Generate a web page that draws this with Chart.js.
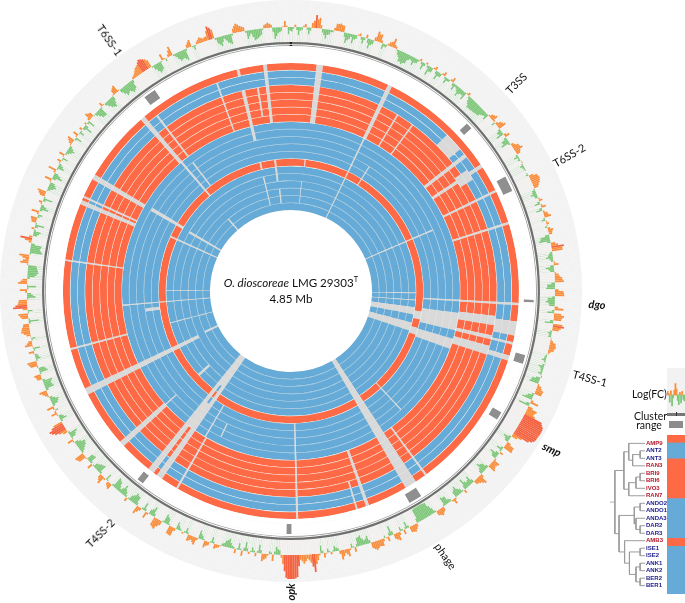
<!DOCTYPE html>
<html>
<head>
<meta charset="utf-8">
<script src="https://cdn.jsdelivr.net/npm/chart.js@4"></script>
<style>
html, body { margin: 0; background: #fff; }
#page { position: relative; width: 685px; height: 603px; overflow: hidden; font-family: Lato, "Liberation Sans", sans-serif; color: #111; }
canvas { position: absolute; }
.lbl { position: absolute; white-space: nowrap; font-size: 11px; line-height: 1; transform: translate(-50%, -50%) rotate(var(--rot)); }
.gene { font-weight: bold; font-style: italic; }
#title { position: absolute; left: 291px; top: 275px; transform: translateX(-50%); text-align: center; font-size: 11.6px; line-height: 15.5px; white-space: nowrap; }
#title sup { font-size: 7.5px; line-height: 0; }
.side { position: absolute; font-size: 10.5px; line-height: 9px; text-align: center; white-space: nowrap; }
</style>
</head>
<body>
<div id="page">
  <canvas id="fc-canvas" width="582" height="582" style="left:0;top:0"></canvas>
  <canvas id="rings-canvas" width="582" height="582" style="left:0;top:0"></canvas>
  <canvas id="key-fc" width="18" height="45" style="left:667px;top:368px;background:#f2f2f2"></canvas>
  <canvas id="tree-canvas" width="57" height="159" style="left:610px;top:435px"></canvas>
  <canvas id="tiles-canvas" width="18" height="159" style="left:667px;top:435px"></canvas>
  <div style="position:absolute;left:667px;top:413px;width:18px;height:2.5px;background:#777"></div>
  <div style="position:absolute;left:676px;top:412px;width:1px;height:4px;background:#333"></div>
  <div style="position:absolute;left:669px;top:421px;width:14px;height:7px;background:#8c8c8c"></div>
  <div id="title"><i>O. dioscoreae</i> LMG 29303<sup>T</sup><br>4.85 Mb</div>
  <div class="side" style="left:632px;top:390px">Log(FC)</div>
  <div class="side" style="left:634px;top:412px;width:30px">Cluster<br>range</div>
</div>
<script>
// samples, outermost ring first
const sampleNames = ['AMP9', 'ANT2', 'ANT3', 'RAN3', 'BRI9', 'BRI6', 'IVO3', 'RAN7', 'ANDO2', 'ANDO1',
    'ANDA3', 'DAR2', 'DAR3', 'AMB3', 'ISE1', 'ISE2', 'ANK1', 'ANK2', 'BER2', 'BER1'];
const sampleGroups = ['r', 'b', 'b', 'r', 'r', 'r', 'r', 'r', 'b', 'b', 'b', 'b', 'b', 'r', 'b', 'b', 'b', 'b', 'b', 'b'];

// missing regions: start (deg clockwise from origin), width (deg), first ring, last ring
const genomeGaps = [
    [346.2, 0.7, 0, 0], [353, 0.9, 0, 7], [6.5, 1.6, 0, 7], [25.2, 1.1, 0, 7], [25.4, 0.5, 8, 19],
    [346.1, 1, 3, 9], [350.5, 0.5, 3, 6], [340.2, 0.4, 1, 7], [346.2, 0.7, 13, 13], [352.7, 0.8, 13, 15],
    [6, 0.4, 13, 13], [346.2, 0.6, 15, 18], [353.3, 0.7, 17, 18], [32, 0.4, 11, 13], [31, 0.4, 3, 7],
    [36, 0.4, 3, 7], [318.6, 0.8, 18, 19], [45, 5, 1, 2], [51.7, 1, 1, 7], [56.3, 0.9, 0, 7],
    [55.5, 3, 2, 3], [63.7, 0.6, 0, 7], [72.4, 0.6, 0, 7], [66.5, 0.5, 10, 19],
    [97.7, 3.6, 0, 2], [103, 0.6, 0, 2], [106.5, 1.3, 0, 2],
    [97, 2.6, 3, 7], [102.5, 1.1, 3, 7], [105.5, 2.5, 3, 7],
    [97.5, 6, 8, 12], [106.5, 3.5, 8, 12], [99, 3.5, 13, 13], [106.3, 3, 13, 13],
    [97.5, 3.3, 14, 19], [104.7, 3.8, 14, 19],
    [146.8, 3, 0, 19], [160, 0.8, 0, 7], [143.5, 0.5, 0, 7], [137, 0.4, 9, 13], [163, 0.4, 0, 3],
    [214.5, 1.6, 0, 19], [217.1, 1.6, 0, 19], [216.1, 1, 8, 11], [216.1, 1, 15, 19],
    [243, 1.7, 0, 16], [227.2, 1.4, 0, 7], [227.7, 0.4, 8, 9], [227.2, 1.1, 14, 15],
    [210.3, 0.4, 8, 12], [209.8, 0.5, 0, 7], [178.2, 0.5, 0, 12],
    [299.4, 1.3, 0, 7], [292.4, 1.1, 0, 7], [294.2, 0.5, 0, 7], [299.8, 1.2, 9, 13], [319.3, 0.7, 8, 13],
    [318.8, 1.2, 0, 7], [299.6, 1, 15, 19], [294, 0.7, 13, 19], [262, 1.2, 11, 12], [244, 1.2, 18, 19],
    [255, 0.4, 14, 19], [277.6, 0.4, 0, 7], [255, 0.5, 0, 7], [322.4, 0.5, 1, 7], [322.4, 0.5, 9, 12],
    [265, 0.4, 8, 19], [270, 0.4, 14, 19], [90.7, 0.35, 14, 19], [93, 0.5, 8, 12], [93, 0.6, 0, 7],
    [94, 0.4, 14, 19], [5.4, 0.3, 16, 18], [205.5, 0.4, 9, 10]
];

// cluster range marks: start (deg), width (deg)
const clusterRanges = [[322.9, 3], [46.4, 1.6], [61.9, 3.8], [92.1, 0.6], [105.3, 2.2], [120, 2], [147.6, 3.2], [179.9, 1.2], [217.6, 1.6]];
const clusterNames = ['T6SS-1', 'T3SS', 'T6SS-2', 'dgo', 'T4SS-1', 'smp', 'phage', 'opk', 'T4SS-2'];

// log fold change in 0.75 degree bins
const logFC = [
    -1.5, .8, -2.6, -.8, 1.1, -2.2, 1.6, 4.4, 3.6, -1.2, -3.1, -1.6, -.6, 2.4, 2.7, 2.2, -3.4, -1.8, -3, -1.2, .9, -2.2, 1.2, -3.2, -1.4, 3.4, 2.8, -1.8, -.9, 1.4, 3.1, .7, -1.6, -3.6, -4, -3.2, -1.2, -2.6, -1.4, .8,
    -2.4, .7, -3.2, -1.6, 1.2, -2.8, -1.2, 1.4, -2, -.7, 1.6, -2.2, -.9, -3, -1.4, -2.6, 1, -1.8, -3.3, -3.2, -3, -2.8, -2.6, -1.4, -2, 1.3, 2.1, -1.2, 1.8, 2.7, -1.6, -2.6, 1.7, -2.2, -3, .9, 2.2, 3, 1.4, -1.6,
    -.8, .3, -1.2, -.5, 0, -.8, 2.8, 3.2, 2.6, 1.6, -1.1, -2, -.9, 1.2, -1.9, 1.6, -2.1, 1.4, 2.3, -1.2, .9, -.7, 1.8, 1.2, -3, -3.7, 1.5, 4.2, 3.6, -1.2, -2.3, -.8, 1.6, -2.8, -1.4, 1.4, 2.4, 3, -2.6, -3,
    2.8, 3.1, -2.4, -3, -1.8, 3, -2.2, 3.4, 2.6, -2.8, 3.8, 2.2, -1.3, -.9, .4, 2, 2.3, 1.8, .4, -.7, -1.4, .2, -1.8, -.8, -1.2, .4, -2.6, -3.2, 1.4, 2.6, 2.4, -1.8, -3.4, 2.8, -3.6, 3.4, 2.8, 6.5, 7.6, 7.8,
    7.8, 7.6, 7.4, 5.8, 2, -2.4, -1.2, 3, 3.2, -2, 1.2, -3, -1.6, 2.4, 1.8, 2.6, -2.2, -3.4, -1.2, 3.2, 2, 1.4, -2.8, -1.6, -3.6, 1.2, -1.4, -3.2, -2, 1.8, -.8, -2.6, -3, 1.4, 2.4, 1.6, -1.8, -4.6, -4.8, -4.8,
    -4.8, -4.6, 1.2, 2.4, 2, -2.2, 1.6, -1.4, 2.8, 1.8, -3.2, 1.6, -.7, 2.4, 2.2, 3, 2, -2.6, -1.4, -3.4, -2.8, 1.6, -1.4, 2.6, 1.2, 3.2, -.8, -1.8, .8, -1.3, 1.6, -2.6, 2.2, 6, 2.8, 1.4, 3, 1.6, 7.4, 8,
    8, 7.6, 3, -1.4, -2.6, 2.2, -1, 1.6, 2.6, -2.8, 1.2, -1.6, .8, -3, 1.8, -2.2, 1.4, -.9, -3, -2, -.8, .9, 1.6, -2, 1.2, 2.3, -1.2, -2.8, 2.6, 1.4, 2.2, -1.8, .6, -.7, -2.4, 3, 2.8, -2, -3, 1.6,
    3.6, 3, -3.2, -1.6, 2.2, -2.6, 1, 2.8, -2.8, -3.4, -1.8, 1.3, -1.6, -3.2, -1, -2.8, -3.6, 2, 1.2, -2.2, 2.8, 1.4, -3, -2.4, -1.6, 1.8, -2.6, -2.2, 2.6, 3.2, -1.4, -2.8, -3.2, -1.2, 2, -1.8, -3, 1.6, 4, 5.4,
    3.2, -2.4, -1.2, 2, -1, 2.4, -2, -2.8, -1, 1.2, 2.6, -3, -2.4, -3.2, 1.6, 2.2, -2.8, -2, 2.4, 3.2, -1.6, -1, 1.8, -2.2, 2.6, 1.2, -1.4, 1.4, 3, 2.6, 2, -3.4, 2.2, 3.2, -1.6, 4.8, 3.2, 2.8, -2.8, -1.4,
    2.4, -3, 3, 1.6, -2.4, -3.6, -3.2, -2.8, 2.8, 1.2, 3.4, -4.2, -3.2, -3.6, 1, 4, -1.4, -2.4, 1, -3, 1.6, 2.2, -1.4, 2.6, -2.8, -1, 1.2, -3, 1.8, 3, -1, -2.6, -1.6, 2.4, -3.2, -1.4, 2.8, -2.2, -.9, 1.4,
    -1.8, 2, -1, -2.4, -.8, 1.2, 2.4, -2.2, 1.8, -1.6, 1, -3, .7, -2.4, 2.4, 1.6, -1, -2.8, -3, 1.4, -.8, -2.6, -3.4, -1.4, 1.8, 2.6, -1.2, -3.2, -2.4, -3.6, -2.8, .7, 1.4, 2.6, 3.2, 4.4, 3.8, 2.8, -1.6, -3.4,
    -2.6, 2.2, -.9, 1, 3.2, -1.2, -3, -2.6, -3.8, 1.2, 2.4, -1.4, .9, 2, 1.2, 1.6, 4.6, 3.2, -2, -3.2, -1, -2.6, -3.4, 1.6, 3, 2, 1.4, -2.8, -1.2, -3.6, -3, -2, 1, 1.8, 1, -3.8, -2, -1.2, 2, -2.4
];
// the finer reading between those bins
const midFC = [
    -.6, -1, -1.2, .5, -.7, -.9, 2.4, 3, 1.2, -2, -1.8, -.7, .9, 2.5, 2.3, -1.4, -2.4, -1, -1.6, .4, -1, -.8, -1.4, -1.9, 1.2, 2.6, .9, -.8, .6, 1.8, 1.2, -.6, -2.2, -3.4, -3.4, -1.8, -1.4, -1.5, -.5, -.9,
    -1, -.8, -1.7, .5, -1.1, -1.3, .6, -.7, -.9, .6, -1, -.7, -1.6, -1.9, -1.5, .4, -.8, -2.4, -3.1, -3.1, -2.9, -2.7, -1.8, -1.2, .5, 1.6, .6, .9, 2.1, -.7, -1.4, .8, -.9, -2, -.7, 1.4, 2.4, 1.8, -.6, -.5,
    .2, -.4, -.7, -.2, -.3, 1.6, 3, 2.9, 2, -.4, -1.2, -1.1, .5, -.8, .6, -.9, .6, 1.6, -.5, .4, .3, .9, 1.4, -1.4, -3.2, -1.1, 2.4, 3.6, -.7, -1.5, -1.2, .6, -1.2, -1.9, .5, 1.7, 2.6, -1.2, -2.6, 1.2,
    3, -.9, -2.4, -2, 1.2, -.8, 2.4, 2.9, -1.1, 3.2, 2.8, -.6, -.8, .2, 1, 2.1, 2, .9, -.3, -.8, -.5, -.7, -1.1, -.6, -.3, -1.4, -2.8, .5, 1.8, 2.5, -.7, -2.4, .8, -1.2, 1.6, 3, 3.6, 7, 7.8, 7.8,
    7.7, 7.6, 6.8, 3.4, -.8, -1.6, 1.4, 3, -.8, -.5, -1.2, -2, .6, 2.1, 2.2, -.9, -2.6, -1.8, 1.2, 2.6, 1.6, -1.1, -1.9, -2.2, -1.4, -.4, -2, -2.4, .6, .6, -1.2, -2.6, -.6, 1.8, 2, -.6, -3, -4.7, -4.8, -4.8,
    -4.8, -1.4, 1.8, 2.2, -.7, -.6, -.5, 1.2, 2.3, -1.2, -1.1, .4, 1, 2.3, 2.6, 2.5, -1, -1.8, -2.2, -3, -.8, -.4, .6, 1.8, 2.2, 1.2, -1.2, -.5, -.4, .4, -.8, .7, 3.4, 4.2, 2, 2.2, 2.2, 3.8, 7.8, 8,
    8, 5.4, 1, -1.8, -1, -.6, .5, 2, -1.1, -.7, -.6, -.3, -1, -1, -.5, -.4, -.6, -1.7, -2.4, -1.1, .3, 1.2, -.6, -.4, 1.6, -.4, -1.8, .8, 2, 1.8, -.6, -.5, -.2, -1.4, 1, 2.9, -.4, -2.4, -.4, 2.4,
    3.2, -1, -2.2, .6, -.8, -.6, 1.8, -.9, -3, -2.4, -.5, -.6, -2.2, -1.8, -1.8, -3.2, -.6, 1.6, -.4, .6, 2, -.7, -2.6, -1.9, -.4, -.7, -2.4, .4, 2.9, -.6, -2, -3, -2, .4, -.4, -2.2, -.6, 2.8, 4.8, 4.2,
    -.6, -1.6, .4, .6, .6, -.8, -2.4, -1.8, .5, 1.8, -.9, -2.7, -2.8, -.8, 1.8, -.4, -2.4, .4, 2.8, -.5, -1.2, .4, -.4, .2, 1.8, -.4, .2, 2.2, 2.8, 2.2, -.6, -.5, 2.7, -.4, 1.6, 4, 3, -.4, -2, .6,
    -.5, -.2, 2.2, -.8, -3, -3.4, -3, .4, 2, 2.3, -.4, -3.7, -3.4, -1.2, 2.4, 1.2, -1.9, -.6, -1, -.4, 1.9, -.6, .6, -.9, -1.9, .4, -.9, -.4, 2.4, -.2, -1.8, -2.1, .4, -1.2, -2.3, .6, -.4, -1.6, .4, -.4,
    .3, -.5, -1.7, -1.6, .4, 1.8, -.6, .4, -.2, -.4, -.9, -1.2, -.6, .9, 2, -.2, -1.9, -2.9, -.4, .3, -1.7, -3, -2.4, .4, 2.2, .4, -2.2, -2.8, -3, -3.2, -1, 1, 2, 2.9, 3.8, 4.2, 3.4, -.4, -2.6, -3,
    -.3, .5, .1, 2.1, -.5, -2.2, -2.8, -3.2, -.6, 1.8, -.3, -.3, 1.4, 1.6, 1.4, 3.2, 4, -.6, -2.6, -2, -1.8, -3, -.6, 2.4, 2.6, 1.7, -.6, -2, -2.4, -3.3, -2.5, -.5, 1.4, 1.4, -1.4, -2.9, -1.6, .3, .4, -1.2
];
const keyFC = [1.2, .6, -2.4, 1.4, -3.6, -1, 1.6, 3.8, 2, -1.8, -3.2, .9, -2.6, 1.2, -1.4, -2];

// dendrogram: child a, child b, height (children above 19 are earlier merges)
const treeMerges = [
    [1, 2, 5], [20, 3, 12.7], [0, 21, 16.7], [4, 5, 5], [23, 6, 9.3], [24, 7, 16.7], [22, 25, 21.7],
    [8, 9, 5], [11, 12, 5], [10, 28, 9.3], [27, 29, 11], [14, 15, 5], [16, 17, 5], [18, 19, 5],
    [32, 33, 9.3], [31, 34, 16], [13, 35, 21], [30, 36, 26.7], [26, 37, 31]
];

const RED = '#fe6a45', BLUE = '#66aad7', GAP = '#d9d9d9', BAND = '#f2f2f2';

const baseOpts = {
    responsive: false,
    animation: false,
    events: [],
    layout: { padding: 0 },
    plugins: { legend: { display: false }, tooltip: { enabled: false } }
};

const spikes = logFC.flatMap((v, i) => [v, midFC[i] ?? 0]);

// outer log(FC) track: polar bars stacked back to front
const fcColor = v => v >= 3.8 ? '#f4623f' : v > 0 ? '#f98f3e' : BAND;
new Chart(document.getElementById('fc-canvas'), {
    type: 'polarArea',
    data: {
        labels: spikes.map((v, i) => i),
        datasets: [
            { data: spikes.map(v => Math.min(v, 0)), backgroundColor: BAND },
            { data: spikes.map(() => 0), backgroundColor: spikes.map(v => v < 0 ? '#7fc77a' : BAND) },
            { data: spikes.map(v => Math.max(v, 0)), backgroundColor: spikes.map(fcColor) },
            { data: spikes.map(() => 9), backgroundColor: BAND }
        ]
    },
    options: {
        ...baseOpts,
        elements: { arc: { borderWidth: 0 } },
        scales: { r: { display: false, min: -88, max: 9 } }
    }
});

// split the circle for one ring (or the separator under it) into filled and missing parts
function segments(covers, fill) {
    const gaps = genomeGaps.filter(covers).sort((a, b) => a[0] - b[0]);
    const data = [], colors = [];
    let pos = 0;
    gaps.forEach(g => {
        const start = Math.max(g[0], pos), end = g[0] + g[1];
        if (end <= pos) return;
        if (start > pos) { data.push(start - pos); colors.push(fill); }
        data.push(end - start);
        colors.push(GAP);
        pos = end;
    });
    data.push(360 - pos);
    colors.push(fill);
    return { data, backgroundColor: colors };
}

function separatorColor(a, b, ring) {
    if (a === 'r' && b === 'r') return '#fcd9d0';
    if (a === 'b' && b === 'b') return ring < 3 ? '#d8e8f2' : '#96c3e0';
    return '#f2f0ef';
}

const ringWeight = 6.87, sepWeight = 0.5;
const ringSets = [];
ringSets.push({ data: [360], backgroundColor: 'transparent', weight: 42 });
ringSets.push({ data: [0.35, 359.3, 0.35], backgroundColor: ['#222', '#6f6f6f', '#222'], weight: 2.2 });
ringSets.push({ data: [360], backgroundColor: '#fff', weight: 0.7 });
ringSets.push({ data: [0.35, 359.3, 0.35], backgroundColor: ['#222', '#a6a6a6', '#222'], weight: 1 });
ringSets.push({ data: [360], backgroundColor: '#fff', weight: 2 });

const clusterData = [], clusterColors = [];
let clusterPos = 0;
[...clusterRanges].sort((a, b) => a[0] - b[0]).forEach(c => {
    clusterData.push(c[0] - clusterPos, c[1]);
    clusterColors.push('#fff', '#8f8f8f');
    clusterPos = c[0] + c[1];
});
clusterData.push(360 - clusterPos);
clusterColors.push('#fff');
ringSets.push({ data: clusterData, backgroundColor: clusterColors, weight: 10 });
ringSets.push({ data: [360], backgroundColor: '#fff', weight: 5 });

sampleNames.forEach((name, i) => {
    const fill = sampleGroups[i] === 'r' ? RED : BLUE;
    ringSets.push({ label: name, weight: ringWeight, ...segments(g => i >= g[2] && i <= g[3], fill) });
    if (i < sampleNames.length - 1) {
        const sep = separatorColor(sampleGroups[i], sampleGroups[i + 1], i);
        ringSets.push({ weight: sepWeight, ...segments(g => i >= g[2] && i + 1 <= g[3], sep) });
    }
});
// white centre
ringSets.push({ data: [360], backgroundColor: '#fff', weight: 81 });

new Chart(document.getElementById('rings-canvas'), {
    type: 'doughnut',
    data: { datasets: ringSets },
    options: {
        ...baseOpts,
        cutout: 0,
        elements: { arc: { borderWidth: 0, hoverOffset: 0 } }
    }
});

// key: small log(FC) sample
new Chart(document.getElementById('key-fc'), {
    type: 'bar',
    data: {
        labels: keyFC.map((v, i) => i),
        datasets: [{ data: keyFC, backgroundColor: keyFC.map(v => v > 0 ? '#f98f3e' : '#7fc77a'), barPercentage: 1, categoryPercentage: 1 }]
    },
    options: {
        ...baseOpts,
        scales: { x: { display: false }, y: { display: false, min: -6, max: 9 } }
    }
});

// key: dendrogram with the sample names on its axis
const nodes = sampleNames.map((n, i) => ({ y: i, h: 0 }));
const treeSets = [];
treeMerges.forEach(m => {
    const a = nodes[m[0]], b = nodes[m[1]];
    treeSets.push({
        data: [{ x: a.h, y: a.y }, { x: m[2], y: a.y }, { x: m[2], y: b.y }, { x: b.h, y: b.y }],
        showLine: true, borderColor: '#9c9c9c', borderWidth: 1, pointRadius: 0
    });
    nodes.push({ y: (a.y + b.y) / 2, h: m[2] });
});
const treeRoot = nodes[nodes.length - 1];
treeSets.push({
    data: [{ x: treeRoot.h, y: treeRoot.y }, { x: 36, y: treeRoot.y }],
    showLine: true, borderColor: '#b5b5b5', borderWidth: 1, pointRadius: 0
});

new Chart(document.getElementById('tree-canvas'), {
    type: 'scatter',
    data: { datasets: treeSets },
    options: {
        ...baseOpts,
        scales: {
            x: { display: false, reverse: true, min: 0, max: 36 },
            y: {
                position: 'right', reverse: true, min: -0.5, max: 19.5,
                grid: { display: false, drawTicks: false },
                border: { display: false },
                afterFit: scale => { scale.width = 22; },
                afterBuildTicks: scale => { scale.ticks = sampleNames.map((n, i) => ({ value: i })); },
                ticks: {
                    padding: 1, autoSkip: false,
                    font: { family: 'Liberation Sans', size: 6, weight: 'bold' },
                    color: ctx => sampleGroups[ctx.index] === 'r' ? '#b2182b' : '#1a1a8c',
                    callback: v => sampleNames[v]
                }
            }
        }
    }
});

// key: one colour cell per sample
new Chart(document.getElementById('tiles-canvas'), {
    type: 'bar',
    data: {
        labels: sampleNames,
        datasets: [{
            data: sampleNames.map(() => 1),
            backgroundColor: sampleGroups.map(g => g === 'r' ? RED : BLUE),
            barPercentage: 1, categoryPercentage: 1
        }]
    },
    options: {
        ...baseOpts,
        indexAxis: 'y',
        scales: { x: { display: false, min: 0, max: 1 }, y: { display: false } }
    }
});

// cluster and gene labels around the circle
const labelSpots = [[110, 40, 55], [516, 83, -45], [569, 155, -30], [597, 304, 3], [590, 378, 15], [552, 449, 25], [446, 556, 55], [289.5, 592, -90], [100, 533, -45]];
const page = document.getElementById('page');
clusterNames.forEach((name, i) => {
    const el = document.createElement('div');
    el.className = 'lbl' + (['dgo', 'smp', 'opk'].includes(name) ? ' gene' : '');
    el.textContent = name;
    el.style.left = labelSpots[i][0] + 'px';
    el.style.top = labelSpots[i][1] + 'px';
    el.style.setProperty('--rot', labelSpots[i][2] + 'deg');
    page.appendChild(el);
});
</script>
</body>
</html>
